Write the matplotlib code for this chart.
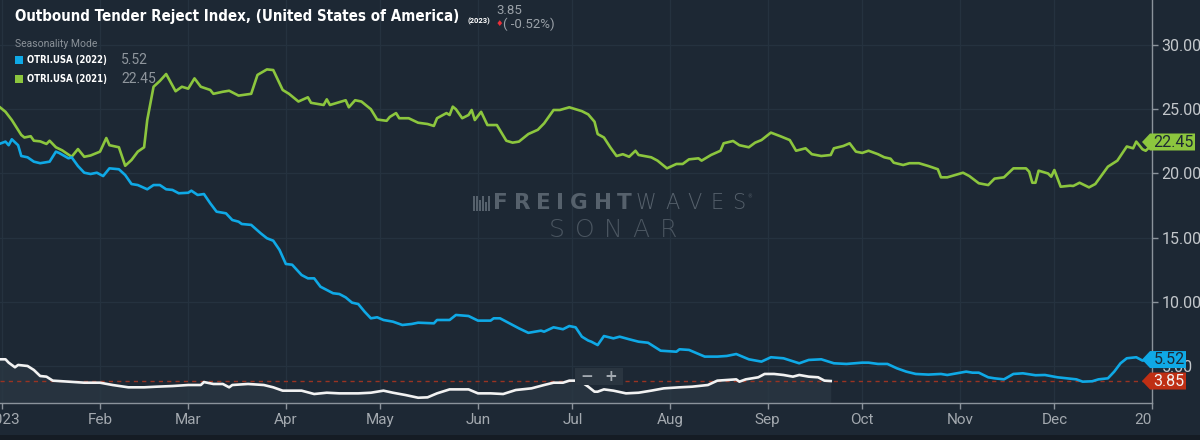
import matplotlib
matplotlib.use('Agg')
import matplotlib.pyplot as plt
from matplotlib import font_manager
from matplotlib.font_manager import FontProperties
from matplotlib.patches import Polygon, Rectangle
from matplotlib.transforms import blended_transform_factory, Bbox, TransformedBbox
import pandas as pd

# ---------------- data ----------------
BASE = pd.Timestamp('2023-01-01')

days_2021 = [-1, 1, 3, 6, 7, 9, 10, 12, 14, 15, 17, 19, 22, 24, 26, 28, 31, 33, 34, 37, 39, 41, 43, 45, 46, 48,
             50, 52, 55, 57, 59, 61, 63, 66, 67, 70, 72, 75, 79, 81, 84, 86, 89, 91, 94, 97, 98, 102, 103, 104,
             109, 110, 112, 114, 117, 119, 122, 123, 125, 126, 129, 132, 135, 137, 138, 141, 142, 143, 144, 146,
             148, 149, 150, 152, 154, 157, 160, 162, 164, 167, 170, 172, 175, 177, 180, 182, 184, 186, 188, 189,
             191, 193, 195, 197, 199, 201, 202, 206, 208, 211, 214, 216, 218, 221, 222, 225, 228, 229, 232, 234,
             237, 239, 241, 244, 247, 250, 252, 255, 257, 260, 263, 264, 267, 269, 271, 273, 275, 278, 280, 282,
             283, 286, 288, 291, 294, 297, 298, 300, 305, 307, 310, 313, 315, 318, 321, 325, 326, 327, 328, 329,
             332, 333, 334, 336, 339, 340, 342, 345, 347, 351, 354, 357, 359, 360, 362, 363, 364]
otri_2021 = [25.2, 24.8, 24.16, 23.0, 22.8, 22.9, 22.55, 22.5, 22.3, 22.55, 22.04, 21.8, 21.3, 21.9, 21.3, 21.4,
             21.7, 22.76, 22.2, 22.04, 20.6, 21.05, 21.7, 22.04, 24.16, 26.75, 27.2, 27.74, 26.4, 26.75, 26.6,
             27.4, 26.75, 26.5, 26.2, 26.36, 26.44, 26.06, 26.2, 27.67, 28.1, 28.05, 26.5, 26.2, 25.6, 25.93,
             25.5, 25.33, 25.77, 25.33, 25.7, 25.15, 25.7, 25.6, 25.0, 24.2, 24.1, 24.4, 24.7, 24.3, 24.3, 23.95,
             23.85, 23.7, 24.3, 24.7, 24.55, 25.2, 25.0, 24.3, 24.55, 24.94, 24.16, 24.8, 23.77, 23.77, 22.55,
             22.4, 22.48, 23.07, 23.4, 23.9, 24.94, 24.94, 25.15, 25.0, 24.85, 24.6, 24.03, 23.07, 22.8, 22.04,
             21.36, 21.5, 21.3, 21.77, 21.44, 21.26, 21.0, 20.4, 20.74, 20.74, 21.1, 21.18, 21.0, 21.44, 21.77,
             22.35, 22.53, 22.2, 22.04, 22.4, 22.6, 23.18, 22.9, 22.6, 21.77, 21.96, 21.5, 21.36, 21.44, 21.96,
             22.14, 22.35, 21.7, 21.6, 21.77, 21.5, 21.26, 21.15, 20.84, 20.66, 20.8, 20.8, 20.58, 20.33, 19.7,
             19.7, 20.06, 19.8, 19.24, 19.1, 19.6, 19.7, 20.4, 20.4, 20.14, 19.28, 19.28, 20.22, 20.0, 19.75,
             20.27, 18.97, 19.05, 19.03, 19.28, 18.92, 19.18, 20.53, 21.0, 22.1, 21.96, 22.48, 21.88, 21.77, 22.0]

days_2022 = [-1, 1, 2, 3, 5, 6, 8, 10, 12, 15, 17, 18, 21, 22, 24, 26, 28, 30, 32, 34, 37, 39, 41, 43, 46, 48, 50,
             52, 54, 56, 59, 60, 62, 64, 66, 68, 71, 73, 75, 76, 79, 82, 84, 86, 88, 90, 92, 95, 97, 99, 101, 105,
             107, 109, 111, 113, 115, 117, 119, 121, 124, 127, 130, 132, 137, 138, 142, 144, 148, 151, 155, 156,
             158, 161, 164, 167, 171, 172, 175, 178, 180, 182, 184, 186, 187, 189, 191, 194, 196, 199, 202, 205,
             209, 214, 215, 218, 223, 227, 230, 233, 237, 241, 244, 248, 253, 256, 260, 264, 268, 273, 275, 278,
             281, 284, 287, 290, 294, 298, 300, 303, 306, 308, 310, 313, 315, 318, 321, 324, 328, 331, 335, 338,
             341, 343, 346, 348, 351, 353, 355, 357, 360, 362, 363, 364]
otri_2022 = [22.3, 22.48, 22.2, 22.66, 22.2, 21.36, 21.26, 20.92, 20.8, 20.92, 21.7, 21.6, 21.18, 21.26, 20.58,
             20.06, 19.96, 20.06, 19.8, 20.4, 20.33, 19.88, 19.18, 19.1, 18.77, 19.1, 19.1, 18.77, 18.72, 18.46,
             18.5, 18.66, 18.33, 18.4, 17.68, 17.03, 16.9, 16.38, 16.25, 16.07, 16.0, 15.35, 14.96, 14.77, 14.05,
             12.96, 12.9, 12.1, 11.84, 11.84, 11.19, 10.68, 10.62, 10.36, 9.95, 9.84, 9.25, 8.73, 8.81, 8.6, 8.47,
             8.21, 8.29, 8.39, 8.34, 8.6, 8.6, 8.99, 8.91, 8.55, 8.55, 8.73, 8.73, 8.34, 7.95, 7.6, 7.77, 7.69,
             8.03, 7.88, 8.13, 8.03, 7.3, 7.0, 6.91, 6.65, 7.35, 7.17, 7.3, 7.1, 6.91, 6.83, 6.21, 6.13, 6.32,
             6.27, 5.75, 5.75, 5.8, 5.95, 5.54, 5.36, 5.7, 5.62, 5.23, 5.49, 5.54, 5.23, 5.18, 5.28, 5.28, 5.18,
             5.18, 4.84, 4.58, 4.4, 4.35, 4.4, 4.32, 4.45, 4.58, 4.5, 4.5, 4.14, 4.06, 3.98, 4.4, 4.45, 4.3, 4.32,
             4.14, 4.06, 3.98, 3.8, 3.83, 3.98, 4.06, 4.58, 5.23, 5.62, 5.7, 5.44, 5.49, 5.52]

days_2023 = [-1, 1, 2, 4, 5, 8, 10, 12, 14, 16, 21, 26, 31, 35, 40, 45, 49, 54, 59, 63, 64, 67, 70, 72, 73, 78,
             83, 86, 89, 95, 99, 103, 107, 113, 117, 121, 124, 128, 132, 135, 138, 142, 148, 151, 155, 159, 163,
             168, 172, 175, 178, 180, 182, 183, 186, 188, 189, 191, 194, 198, 202, 206, 210, 215, 219, 224, 227,
             230, 233, 234, 236, 240, 242, 245, 248, 251, 253, 256, 259, 261, 263]
otri_2023 = [5.54, 5.54, 5.28, 4.92, 5.1, 5.02, 4.71, 4.24, 4.19, 3.88, 3.8, 3.72, 3.72, 3.54, 3.36, 3.36, 3.41,
             3.46, 3.54, 3.54, 3.77, 3.62, 3.62, 3.36, 3.54, 3.62, 3.54, 3.36, 3.1, 3.1, 2.84, 2.94, 2.89, 2.89,
             2.94, 3.1, 2.94, 2.76, 2.55, 2.58, 2.89, 3.2, 3.2, 2.89, 2.89, 2.84, 3.15, 3.28, 3.54, 3.72, 3.72,
             3.88, 3.88, 3.93, 3.41, 3.02, 3.02, 3.2, 3.1, 2.89, 2.94, 3.1, 3.28, 3.36, 3.41, 3.54, 3.88, 3.93,
             3.98, 3.8, 3.98, 4.14, 4.4, 4.4, 4.32, 4.19, 4.32, 4.19, 4.14, 3.88, 3.85]

last_2021 = 22.45
last_2022 = 5.52
last_2023 = 3.85
change_2023 = '( -0.52%)'

month_labels = ['2023', 'Feb', 'Mar', 'Apr', 'May', 'Jun', 'Jul', 'Aug', 'Sep', 'Oct', 'Nov', 'Dec', '2024']
y_ticks = [5, 10, 15, 20, 25, 30]

title = 'Outbound Tender Reject Index, (United States of America)'
series_names = ['OTRI.USA (2022)', 'OTRI.USA (2021)']

# ---------------- style ----------------
BG = '#1d2834'
GRID = '#25323f'
AXC = '#8b939b'
GREEN = '#8cc63e'
BLUE = '#0fa9e6'
WHITE = '#f2f2f2'
RED = '#bf2f14'

W, H = 1200, 440
fig = plt.figure(figsize=(W / 100, H / 100), dpi=100, facecolor=BG)


def fx(x):
    return x / W


def fy(y):
    return 1 - y / H


ax_left, ax_right, ax_top, ax_bottom = 0, 1152, 0, 403
ax = fig.add_axes([fx(ax_left), fy(ax_bottom), (ax_right - ax_left) / W, (ax_bottom - ax_top) / H])
ax.set_facecolor(BG)


def to_dates(days):
    return BASE + pd.to_timedelta(days, unit='D')


d21, d22, d23 = to_dates(days_2021), to_dates(days_2022), to_dates(days_2023)
ymin, ymax = 2.14, 33.5

ax.fill_between(d23, ymin, otri_2023, color='#2b3844', alpha=0.75, lw=0, zorder=1)
ax.plot(d21, otri_2021, color=GREEN, lw=1.9, zorder=3, solid_joinstyle='round')
ax.plot(d22, otri_2022, color=BLUE, lw=1.9, zorder=3, solid_joinstyle='round')
ax.plot(d23, otri_2023, color=WHITE, lw=1.9, zorder=4, solid_joinstyle='round')
ax.axhline(last_2023, color='#9a3322', lw=1.0, ls=(0, (3, 3)), zorder=2)

ax.set_xlim(BASE - pd.Timedelta(hours=18), pd.Timestamp('2024-01-01'))
ax.set_ylim(ymin, ymax)

month_ticks = pd.date_range('2023-01-01', '2024-01-01', freq='MS')
ax.set_xticks(month_ticks)
ax.set_xticklabels(month_labels)
ax.set_yticks(y_ticks)
ax.set_yticklabels([f'{v:.2f}' for v in y_ticks])
ax.yaxis.tick_right()
ax.tick_params(axis='x', colors=AXC, labelcolor='#a3a9af', labelsize=11, length=4, width=1, pad=3)
ax.tick_params(axis='y', colors=AXC, labelcolor='#c3c7cb', labelsize=11.5, length=4, width=1, pad=3)
for lbl in ax.get_xticklabels() + ax.get_yticklabels():
    lbl.set_fontfamily('Roboto')
ax.grid(True, color=GRID, lw=0.9, zorder=0)
ax.set_axisbelow(True)
for s in ['left', 'top']:
    ax.spines[s].set_visible(False)
for s in ['right', 'bottom']:
    ax.spines[s].set_color(AXC)
    ax.spines[s].set_linewidth(1.0)

# clip x tick labels to the plot width (the edge labels are cut in the original)
clipbox = TransformedBbox(Bbox([[0, -0.3], [1, 1]]), ax.transAxes)
for lbl in ax.get_xticklabels():
    lbl.set_clip_on(True)
    lbl.set_clip_box(clipbox)

# ---------------- value tags on the right ----------------
bt = blended_transform_factory(ax.transAxes, ax.transData)
axw = ax_right - ax_left
pxu = (ax_bottom - ax_top) / (ymax - ymin)


def tag(val, txt, color, tcolor, right_px):
    hh = 8.5 / pxu
    tip = (1142 - ax_left) / axw
    bl = (1150 - ax_left) / axw
    br = (right_px - ax_left) / axw
    poly = Polygon([[tip, val], [bl, val + hh], [br, val + hh], [br, val - hh], [bl, val - hh]],
                   closed=True, transform=bt, facecolor=color, edgecolor='none', clip_on=False, zorder=20)
    ax.add_patch(poly)
    ax.text((bl + br) / 2 + 1 / axw, val, txt, transform=bt, ha='center', va='center', fontsize=11.5,
            color=tcolor, family='Roboto', clip_on=False, zorder=21)


tag(last_2021, f'{last_2021:.2f}', GREEN, '#1d2834', 1195)
tag(last_2022, f'{last_2022:.2f}', BLUE, '#1d2834', 1186)
tag(last_2023, f'{last_2023:.2f}', RED, '#f3f3f3', 1186)

# ---------------- header ----------------
fig.canvas.draw()
renderer = fig.canvas.get_renderer()

cond_fp = None
for f in font_manager.fontManager.ttflist:
    nm = f.name + ' ' + f.fname
    if (('Condensed' in nm or 'Narrow' in nm or f.stretch in ('condensed', 'semi-condensed'))
            and (f.weight in ('bold', 700, 'semibold', 600) or 'Bold' in f.fname)
            and 'Oblique' not in f.fname and 'Italic' not in f.fname):
        cond_fp = FontProperties(fname=f.fname)
        break
if cond_fp is None:
    cond_fp = FontProperties(family='Roboto', weight='bold')


def fit(t, target):
    w = t.get_window_extent(renderer).width
    t.set_fontsize(t.get_fontsize() * target / w)


t_title = fig.text(fx(15), fy(17), title, fontproperties=cond_fp.copy(), color='white',
                   ha='left', va='center')
t_title.set_fontsize(14)
fit(t_title, 448)

fig.text(fx(467), fy(21), '(2023)', family='Roboto', weight='bold', fontsize=5.5, color='white',
         ha='left', va='center')
fig.text(fx(496), fy(10), f'{last_2023:.2f}', family='Roboto', fontsize=9.5, color='#9aa1a8',
         ha='left', va='center')
fig.text(fx(496), fy(24), '\u2666', family=['DejaVu Sans'], fontsize=6, color='#e8303a',
         ha='left', va='center')
fig.text(fx(503), fy(24), change_2023, family='Roboto', fontsize=9.5, color='#9aa1a8',
         ha='left', va='center')

fig.text(fx(15), fy(44), 'Seasonality Mode', family='Roboto', fontsize=7.5, color='#8a9198',
         ha='left', va='center')
for i, (nm, val, col) in enumerate(zip(series_names, [last_2022, last_2021], [BLUE, GREEN])):
    yy = 60 + i * 19
    fig.patches.append(Rectangle((fx(15), fy(yy + 4)), 8 / W, 8 / H, transform=fig.transFigure,
                                 facecolor=col, edgecolor='none'))
    tn = fig.text(fx(27), fy(yy), nm, fontproperties=cond_fp.copy(), color='white',
                  ha='left', va='center')
    tn.set_fontsize(8.5)
    fit(tn, 80)
    fig.text(fx(121), fy(yy), f'{val:.2f}', family='Roboto', fontsize=10, color='#8f969d',
             ha='left', va='center')

# ---------------- watermark ----------------
WM = '#56616c'


def spaced(s, x0, x1, yc, **kw):
    ts = [fig.text(0, fy(yc), ch, ha='left', va='center', **kw) for ch in s]
    ws = [t.get_window_extent(renderer).width for t in ts]
    gap = (x1 - x0 - sum(ws)) / max(len(s) - 1, 1)
    x = x0
    for t, w in zip(ts, ws):
        t.set_x(fx(x))
        x += w + gap


spaced('FREIGHT', 493, 632, 203, family='DejaVu Sans', weight='bold', fontsize=15.5, color=WM)
spaced('WAVES', 636, 745, 203, family='DejaVu Sans', weight='light', fontsize=15, color=WM)
fig.text(fx(747), fy(197), '\u00ae', family='DejaVu Sans', fontsize=3.5, color=WM, ha='left', va='center')
spaced('SONAR', 549, 677, 230, family='DejaVu Sans', weight='light', fontsize=18, color='#4a5560')
for i, hgt in enumerate([15, 15, 11, 15, 9, 15]):
    fig.patches.append(Rectangle((fx(473 + i * 3), fy(211)), 1.8 / W, hgt / H, transform=fig.transFigure,
                                 facecolor=WM, edgecolor='none'))

# ---------------- zoom control ----------------
fig.patches.append(Rectangle((fx(575), fy(385)), 48 / W, 17 / H, transform=fig.transFigure,
                             facecolor='#2a3540', edgecolor='none', zorder=5))
fig.text(fx(587), fy(376.5), '\u2212', family='DejaVu Sans', weight='bold', fontsize=11, color='#a3aab1',
         ha='center', va='center', zorder=6)
fig.text(fx(611), fy(376.5), '+', family='DejaVu Sans', weight='bold', fontsize=11, color='#a3aab1',
         ha='center', va='center', zorder=6)
fig.lines.append(plt.Line2D([fx(600), fx(600)], [fy(371), fy(382)], transform=fig.transFigure,
                            color='#3c4753', lw=1))

# bottom strip
fig.patches.append(Rectangle((0, 0), 1, 5 / H, transform=fig.transFigure, facecolor='#151c24',
                             edgecolor='none'))

fig.savefig('out.png', dpi=100, facecolor=BG)
